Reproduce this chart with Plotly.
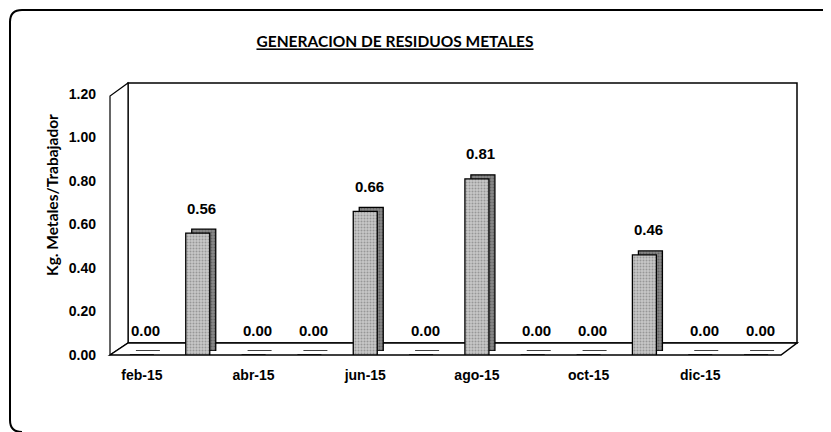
import plotly.graph_objects as go

meses = ["feb-15", "mar-15", "abr-15", "may-15", "jun-15", "jul-15",
         "ago-15", "sep-15", "oct-15", "nov-15", "dic-15", "ene-16"]
kg_trabajador = [0.00, 0.56, 0.00, 0.00, 0.66, 0.00, 0.81, 0.00, 0.00, 0.46, 0.00, 0.00]
meses_eje = ["feb-15", "abr-15", "jun-15", "ago-15", "oct-15", "dic-15"]
ticks_y = [0.0, 0.2, 0.4, 0.6, 0.8, 1.0, 1.2]

# La página añade 8 px de margen al cuerpo: se descuentan de las posiciones
OFF = 8
L, R, T, B = 114 - OFF, 49, 90 - OFF, 85
W, H = 831 - L - R, 432 - T - B
DX, DY = 6, 4  # profundidad de las barras


def px(x):
    return (x - OFF - L) / W


def py(y):
    return (432 - B - (y - OFF)) / H


def poly(puntos):
    return "M " + " L ".join(f"{px(x)},{py(y)}" for x, y in puntos) + " Z"


fuente = dict(family="Liberation Sans, Arial", size=14, color="black", weight="bold")

fig = go.Figure()

# Cara lateral / superior (ejes desplazados, se dibujan detrás)
fig.add_trace(go.Bar(
    x=meses, y=kg_trabajador, xaxis="x", yaxis="y", width=0.43,
    marker=dict(color="#7a7a7a", line=dict(color="black", width=1.3),
                pattern=dict(shape=".", fgcolor="#3a3a3a", bgcolor="#8a8a8a", size=3, solidity=0.4)),
    hoverinfo="skip", showlegend=False,
))
# Cara frontal
fig.add_trace(go.Bar(
    x=meses, y=kg_trabajador, xaxis="x2", yaxis="y2", width=0.43,
    marker=dict(color="#bdbdbd", line=dict(color="black", width=1.3),
                pattern=dict(shape=".", fgcolor="#666666", bgcolor="#c8c8c8", size=3, solidity=0.35)),
    showlegend=False,
))

# Etiquetas de datos
for m, v in zip(meses, kg_trabajador):
    fig.add_annotation(x=m, y=v, xref="x2", yref="y2", text=f"<b>{v:.2f}</b>",
                       showarrow=False, yshift=25, xshift=4,
                       font=dict(family="Liberation Sans, Arial", size=15, color="black"))

# Título del eje Y
fig.add_annotation(x=px(52), y=py(195), xref="paper", yref="paper", textangle=-90,
                   text="<b>Kg. Metales/Trabajador</b>", showarrow=False,
                   xanchor="center", yanchor="middle",
                   font=dict(family="Lato, Open Sans", size=15.5, color="black"))

# Paredes y suelo del gráfico 3D
formas = [
    dict(type="path", path=poly([(128, 83), (797, 83), (797, 343), (128, 343)]),
         fillcolor="white", line=dict(color="black", width=1.5)),
    dict(type="path", path=poly([(110, 355), (110, 96), (128, 83), (128, 343)]),
         fillcolor="white", line=dict(color="black", width=1.2)),
    dict(type="path", path=poly([(110, 355), (128, 343), (797, 343), (781, 355)]),
         fillcolor="white", line=dict(color="black", width=1.5)),
    # marco exterior
    dict(type="path",
         path=f"M {px(840)},{py(10)} L {px(22)},{py(10)} Q {px(10)},{py(10)} {px(10)},{py(22)} "
              f"L {px(10)},{py(420)} Q {px(10)},{py(432)} {px(22)},{py(432)}",
         line=dict(color="black", width=2)),
]
for f in formas:
    f.update(xref="paper", yref="paper", layer="below")
    fig.add_shape(**f)

fig.update_layout(
    width=831, height=432,
    margin=dict(l=L, r=R, t=T, b=B),
    paper_bgcolor="white", plot_bgcolor="rgba(0,0,0,0)",
    title=dict(text="<b><u>GENERACION DE RESIDUOS METALES</u></b>", x=(395 - OFF) / 831,
               xanchor="center", y=1 - (42 - OFF) / 432, yanchor="middle",
               font=dict(family="Lato, Open Sans", size=15.5, color="black")),
    xaxis=dict(domain=[DX / W, 1], visible=False, type="category", categoryorder="array",
               categoryarray=meses),
    yaxis=dict(domain=[DY / H, 1], visible=False, range=[0, 1.2]),
    xaxis2=dict(domain=[0, 1 - DX / W], anchor="y2", type="category", categoryorder="array",
                categoryarray=meses, tickmode="array", tickvals=meses_eje, ticktext=meses_eje,
                showline=False, showgrid=False, ticks="", ticklabelstandoff=10, tickfont=fuente),
    yaxis2=dict(domain=[0, 1 - DY / H], anchor="x2", range=[0, 1.2], tickvals=ticks_y,
                tickformat=".2f", showgrid=False, showline=False, zeroline=False, ticks="",
                ticklabelstandoff=17, tickfont=fuente),
)

fig.write_html("out.html")
